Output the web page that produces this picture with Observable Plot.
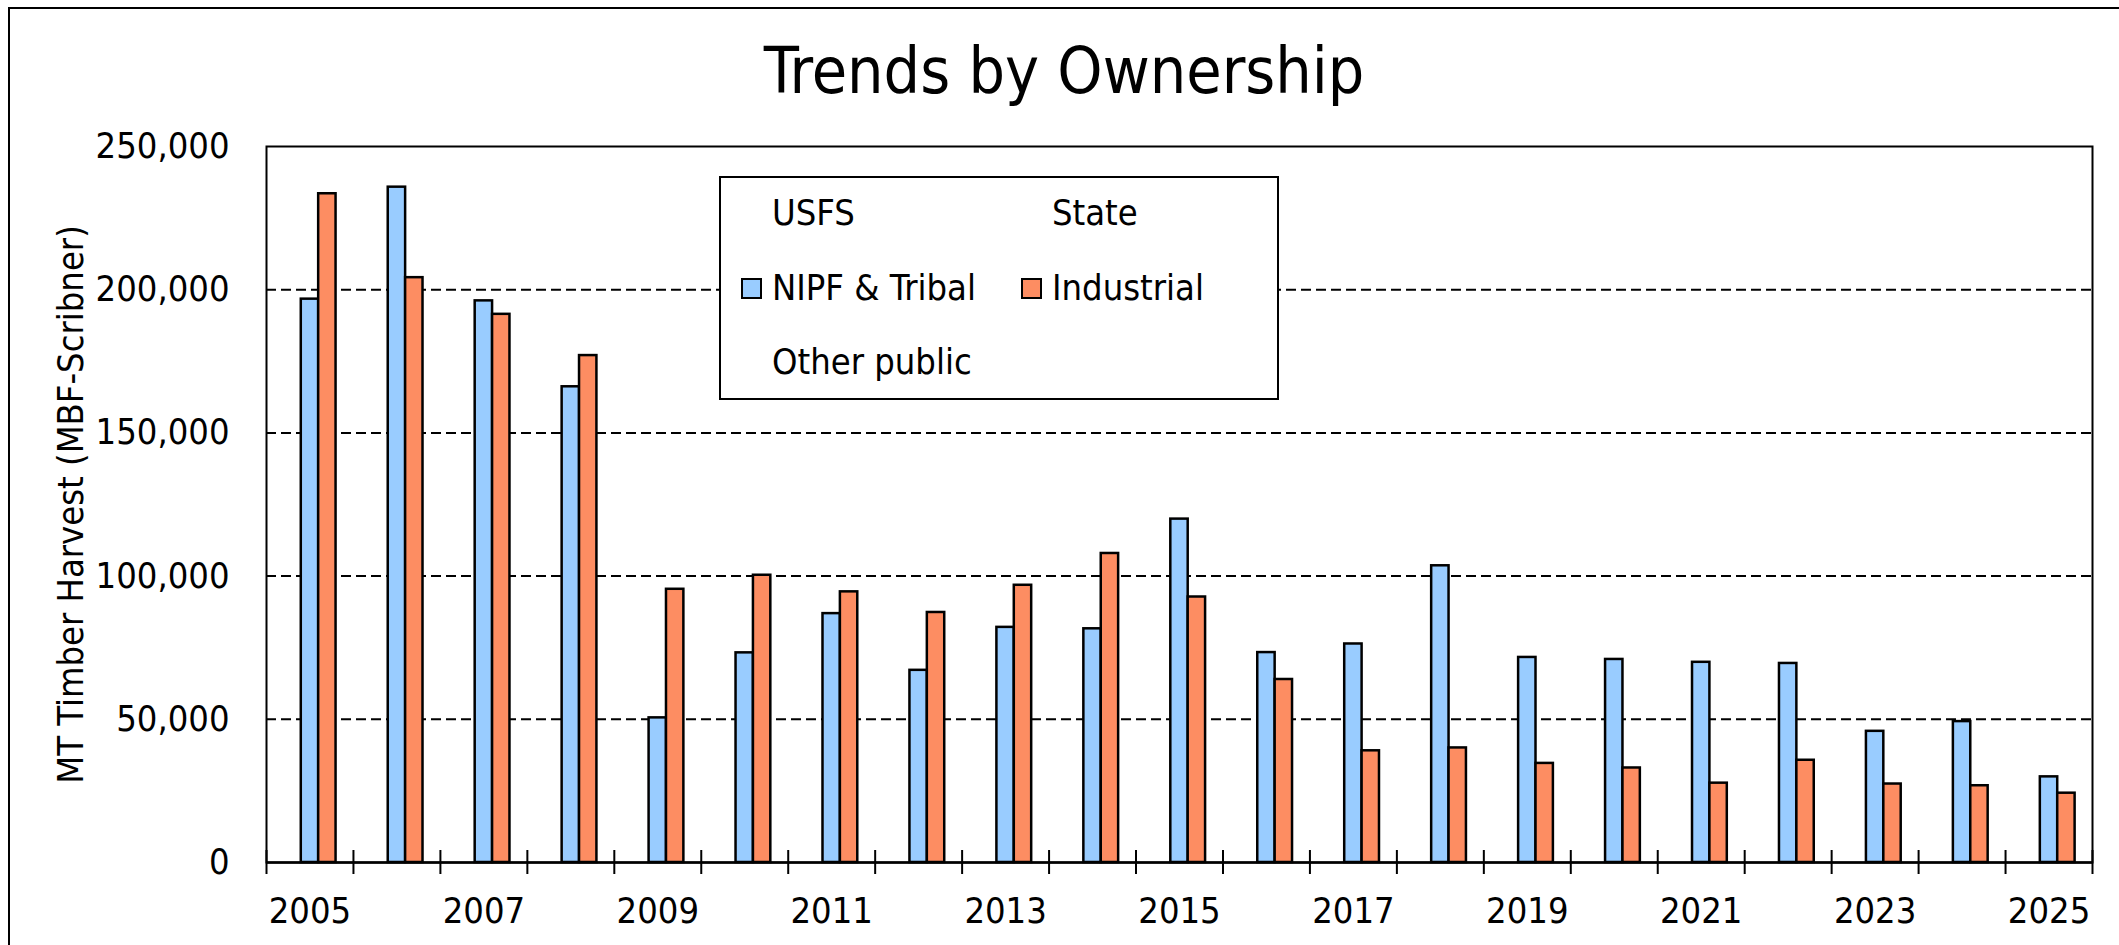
<!DOCTYPE html>
<html>
<head>
<meta charset="utf-8">
<script src="https://cdn.jsdelivr.net/npm/d3@7"></script>
<script src="https://cdn.jsdelivr.net/npm/@observablehq/plot@0.6"></script>
<style>
html, body { margin: 0; padding: 0; background: #fff; overflow: hidden; }
body { width: 2119px; height: 945px; position: relative;
  font-family: 'DejaVu Sans Condensed', 'DejaVu Sans', sans-serif; font-stretch: condensed; color: #000; }
#frame { position: absolute; left: 8px; top: 7px; width: 2300px; height: 1100px;
  border-top: 2px solid #000; border-left: 2px solid #000; }
#chart { position: absolute; left: 0; top: 0; }
#title { position: absolute; left: 0; width: 2128px; top: 39px; text-align: center;
  font-size: 64px; line-height: 64px; white-space: nowrap; }
#legend { position: absolute; left: 719px; top: 176px; width: 560px; height: 224px;
  box-sizing: border-box; border: 2px solid #000; background: #fff; }
.item { position: absolute; height: 36px; line-height: 36px; font-size: 36px; white-space: nowrap; }
.item .sw { position: absolute; top: 8px; width: 21px; height: 21px; box-sizing: border-box; border: 2px solid #000; }
.item .tx { position: absolute; left: 31px; top: 0; }
</style>
</head>
<body>
<div id="frame"></div>
<div id="chart"></div>
<div id="title"></div>
<div id="legend"></div>
<script>
const titleText = "Trends by Ownership";
const yLabel = "MT Timber Harvest (MBF-Scribner)";
const years = [2005, 2006, 2007, 2008, 2009, 2010, 2011, 2012, 2013, 2014, 2015,
               2016, 2017, 2018, 2019, 2020, 2021, 2022, 2023, 2024, 2025];
const nipfTribal = [196700, 235800, 196100, 166100, 50500, 73200, 86900, 67100, 82100, 81600, 119900,
                    73300, 76300, 103600, 71600, 70900, 69900, 69500, 45800, 49200, 29900];
const industrial = [233500, 204200, 191400, 177000, 95400, 100300, 94500, 87300, 96800, 107900, 92700,
                    63900, 39000, 40000, 34600, 33000, 27700, 35700, 27400, 26800, 24200];
const seriesNames = ["USFS", "State", "NIPF & Tribal", "Industrial", "Other public"];
const seriesColors = {"NIPF & Tribal": "#99ccff", "Industrial": "#fd8d62"};
const yTicks = [0, 50000, 100000, 150000, 200000, 250000];
const xTickLabels = [2005, 2007, 2009, 2011, 2013, 2015, 2017, 2019, 2021, 2023, 2025];

// Build table: each year has 5 slots (one per series); only two series hold data.
const slotCount = seriesNames.length;
const rows = [];
years.forEach((yr, i) => {
  [["NIPF & Tribal", nipfTribal[i]], ["Industrial", industrial[i]]].forEach(([s, v]) => {
    const slot = seriesNames.indexOf(s);
    rows.push({year: yr, series: s, value: v,
               x1: yr - 0.5 + slot / slotCount, x2: yr - 0.5 + (slot + 1) / slotCount});
  });
});
const boundaries = years.map(y => y - 0.5).concat([years[years.length - 1] + 0.5]);

const font = "'DejaVu Sans Condensed', 'DejaVu Sans', sans-serif";
const chart = Plot.plot({
  width: 2119, height: 945,
  marginLeft: 266, marginRight: 27, marginTop: 146, marginBottom: 83,
  style: {fontFamily: font, fontSize: "36px", background: "transparent", color: "#000", fontStretch: "condensed"},
  x: {type: "linear", domain: [years[0] - 0.5, years[years.length - 1] + 0.5], axis: null},
  y: {domain: [0, 250000], axis: null},
  color: {domain: Object.keys(seriesColors), range: Object.values(seriesColors)},
  marks: [
    Plot.ruleY(yTicks.filter(d => d > 0 && d < 250000), {stroke: "#000", strokeWidth: 2, strokeDasharray: "10,5"}),
    Plot.rect(rows, {x1: "x1", x2: "x2", y1: 0, y2: "value", fill: "series", stroke: "#000", strokeWidth: 2.5}),
    Plot.frame({stroke: "#000", strokeWidth: 2}),
    Plot.ruleY([0], {stroke: "#000", strokeWidth: 2.5}),
    Plot.axisX(boundaries, {tickSize: 24, dy: -12, tickFormat: () => "", strokeWidth: 2}),
    Plot.axisX(xTickLabels, {tickSize: 0, tickPadding: 35, tickFormat: d => String(d), fontSize: 36, fill: "#000"}),
    Plot.axisY(yTicks, {tickSize: 0, tickPadding: 37, tickFormat: d3.format(","), fontSize: 36, fill: "#000", label: null}),
    Plot.text([yLabel], {frameAnchor: "left", textAnchor: "middle", rotate: -90, dx: -195, fontSize: 36, fill: "#000"})
  ]
});
document.getElementById("chart").appendChild(chart);

document.getElementById("title").textContent = titleText;

// Legend (Excel-like 2 columns, 3 rows)
const legend = document.getElementById("legend");
const colX = [20, 300];
const rowY = [17, 91.5, 166];
seriesNames.forEach((name, i) => {
  const item = document.createElement("div");
  item.className = "item";
  item.style.left = colX[i % 2] + "px";
  item.style.top = rowY[Math.floor(i / 2)] + "px";
  if (seriesColors[name]) {
    const sw = document.createElement("div");
    sw.className = "sw";
    sw.style.background = seriesColors[name];
    item.appendChild(sw);
  }
  const tx = document.createElement("span");
  tx.className = "tx";
  tx.textContent = name;
  item.appendChild(tx);
  legend.appendChild(item);
});
</script>
</body>
</html>
